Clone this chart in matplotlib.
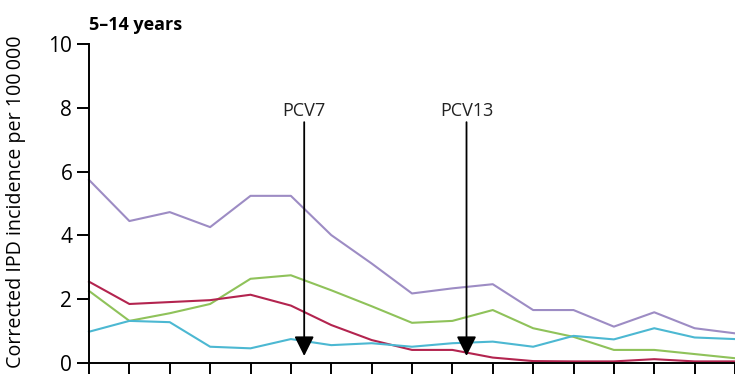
import matplotlib
matplotlib.use("Agg")
import matplotlib.pyplot as plt

# Season index along the x axis (tick labels are cut off in the source)
seasons = list(range(17))

# Corrected IPD incidence per 100 000, 5-14 years
purple = [5.74, 4.45, 4.73, 4.26, 5.24, 5.24, 4.01, 3.12, 2.18, 2.34, 2.47, 1.66, 1.66, 1.14, 1.59, 1.09, 0.93]
green = [2.26, 1.32, 1.56, 1.85, 2.64, 2.75, 2.28, 1.78, 1.26, 1.32, 1.66, 1.09, 0.82, 0.41, 0.41, 0.28, 0.15]
red = [2.55, 1.85, 1.91, 1.97, 2.14, 1.80, 1.19, 0.72, 0.41, 0.41, 0.17, 0.06, 0.05, 0.05, 0.12, 0.05, 0.05]
cyan = [0.98, 1.32, 1.28, 0.51, 0.46, 0.75, 0.56, 0.62, 0.51, 0.62, 0.67, 0.51, 0.85, 0.74, 1.09, 0.80, 0.75]

vaccines = ["PCV7", "PCV13"]
vaccine_x = [5.33, 9.35]

plt.rcParams["font.family"] = ["Open Sans", "DejaVu Sans"]

fig = plt.figure(figsize=(7.35, 3.74), dpi=100)
ax = fig.add_axes([89 / 735, 11 / 374, 646 / 735, 319 / 374])

ax.plot(seasons, purple, color="#9d8cc4", lw=1.5, clip_on=False)
ax.plot(seasons, green, color="#8fc25a", lw=1.5, clip_on=False)
ax.plot(seasons, red, color="#b3244f", lw=1.5, clip_on=False)
ax.plot(seasons, cyan, color="#4cb8d2", lw=1.5, clip_on=False)

for name, xv in zip(vaccines, vaccine_x):
    ax.annotate("", xy=(xv, 0.22), xytext=(xv, 7.55),
                arrowprops=dict(arrowstyle="-|>,head_length=0.6,head_width=0.3",
                                color="black", lw=1.3, mutation_scale=20,
                                shrinkA=0, shrinkB=0))
    ax.text(xv, 7.9, name, ha="center", va="center", fontsize=13, color="#222222")

ax.set_xlim(0, 16)
ax.set_ylim(0, 10)
ax.set_yticks([0, 2, 4, 6, 8, 10])
ax.set_xticks(seasons)
ax.set_xticklabels([])
ax.tick_params(axis="y", length=9, width=1.4, labelsize=15, pad=3)
ax.tick_params(axis="x", length=12, width=1.4)
ax.spines["top"].set_visible(False)
ax.spines["right"].set_visible(False)
ax.spines["left"].set_linewidth(1.4)
ax.spines["bottom"].set_linewidth(1.4)

ax.set_ylabel("Corrected IPD incidence per 100\u2009000", fontsize=14.2)
ax.yaxis.set_label_coords(-0.097, 0.505)
ax.text(0, 1.03, "5\u201314 years", transform=ax.transAxes, fontsize=13,
        fontweight="bold", ha="left", va="bottom")

fig.savefig("out.png", dpi=100)
